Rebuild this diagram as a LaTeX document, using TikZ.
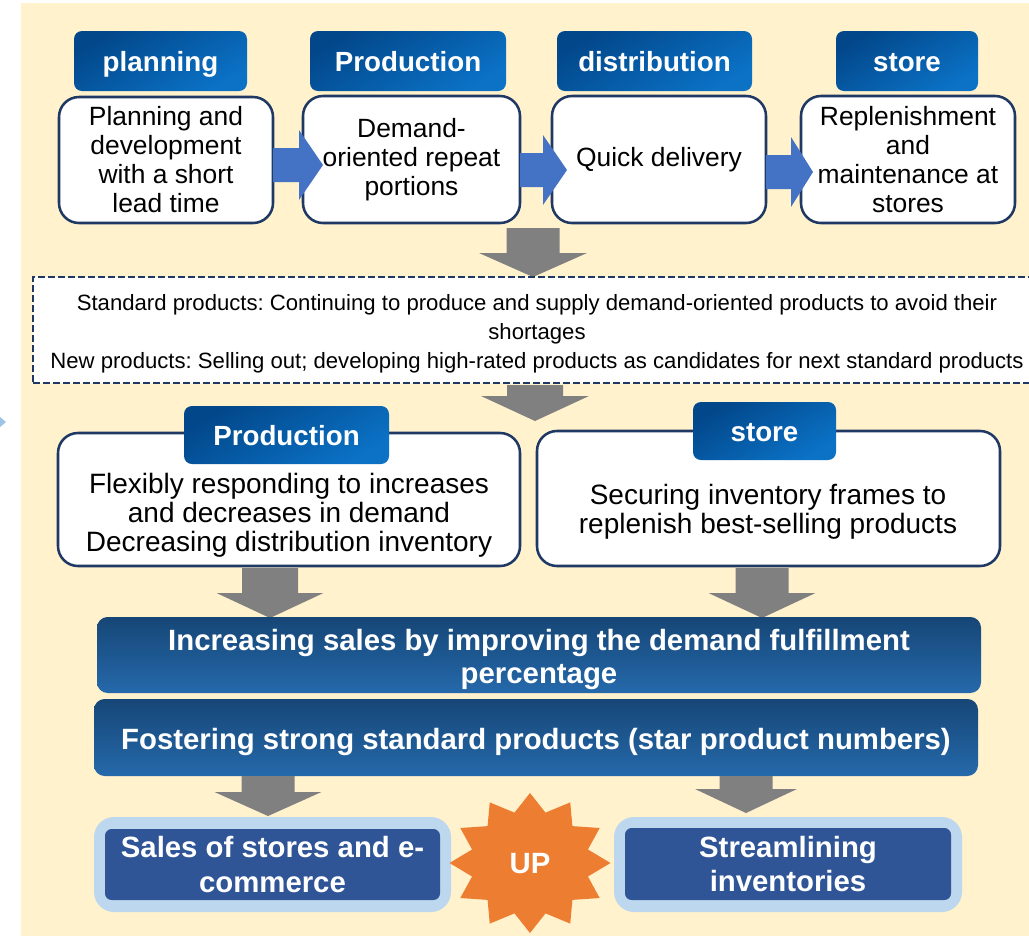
\documentclass[tikz,border=0pt]{standalone}
\usepackage{fontspec}
\setmainfont{Liberation Sans}
\frenchspacing
\definecolor{bg}{HTML}{FFF2CC}
\definecolor{navy}{HTML}{1F3864}
\definecolor{hdark}{HTML}{02478A}
\definecolor{hlight}{HTML}{0B72C6}
\definecolor{bdark}{HTML}{164676}
\definecolor{blight}{HTML}{2569AB}
\definecolor{arrblue}{HTML}{4472C4}
\definecolor{arrgray}{HTML}{808080}
\definecolor{outerblue}{HTML}{BDD7EE}
\definecolor{innerblue}{HTML}{2F5597}
\definecolor{starorange}{HTML}{ED7D31}
\definecolor{tri}{HTML}{9DC3E6}
\newcommand\grayarr[6]{\fill[arrgray] (#1-#5,#2) -- (#1+#5,#2) -- (#1+#5,#3) -- (#1+#6,#3) -- (#1,#4) -- (#1-#6,#3) -- (#1-#5,#3) -- cycle;}
\newcommand\blueblock[6]{\fill[arrblue] (#1,#2-#5) -- (#3,#2-#5) -- (#3,#2-#6) -- (#4,#2) -- (#3,#2+#6) -- (#3,#2+#5) -- (#1,#2+#5) -- cycle;}
\begin{document}
\begin{tikzpicture}[x=0.75pt,y=-0.75pt,
  span/.style n args={4}{minimum width={(#3-#1)*0.75pt}, minimum height={(#4-#2)*0.75pt}, at={({(#1+#3)/2},{(#2+#4)/2})}},
  whitebox/.style={draw=navy, line width=1.9pt, fill=white, rounded corners=15pt, inner sep=0pt, align=center, font=\fontsize{19.8}{21.75}\selectfont},
  midtext/.style={align=center, inner sep=0pt, font=\fontsize{21}{21.75}\selectfont},
  header/.style={rounded corners=6pt, inner sep=0pt, top color=hdark, bottom color=hlight, shading angle=30, text=white, text height=16pt, text depth=0pt, font=\bfseries\fontsize{20.8}{24}\selectfont},
  dashbox/.style={draw=navy, line width=2pt, dash pattern=on 5pt off 2.5pt, fill=white, inner sep=0pt},
  dashtext/.style={align=center, inner sep=0pt, font=\fontsize{16.6}{21.75}\selectfont},
  banner/.style={rounded corners=8pt, inner sep=0pt, top color=bdark, bottom color=blight},
  bannertext/.style={text=white, align=center, inner sep=0pt, font=\bfseries\fontsize{22}{24.75}\selectfont},
  outerbox/.style={fill=outerblue, rounded corners=15pt, inner sep=0pt},
  innerbox/.style={fill=innerblue, rounded corners=5pt, inner sep=0pt, text=white, align=center, font=\bfseries\fontsize{22}{26}\selectfont}
]
\useasboundingbox (0,0) rectangle (1029,936);
\fill[bg] (21,3) rectangle (1029,936);
\fill[tri] (0,417) -- (6,422) -- (0,427) -- cycle;

% top row
\node[header, span={74}{31}{247}{91}] (h1) {planning};
\node[header, span={310}{31}{506}{91}] (h2) {Production};
\node[header, span={557}{31}{752}{91}] (h3) {distribution};
\node[header, span={836}{31}{978}{91}] (h4) {store};

\node[whitebox, span={59}{97}{273}{223}] (b1) {Planning and\\development\\with a short\\lead time};
\node[whitebox, span={303}{96}{520}{223}] (b2) {Demand-\\oriented repeat\\portions};
\node[whitebox, span={552}{96}{766}{223}] (b3) {Quick delivery};
\node[whitebox, span={801}{96}{1015}{223}] (b4) {Replenishment\\and\\maintenance at\\stores};

\blueblock{273}{165}{299}{323}{17}{35}
\blueblock{520}{170}{543}{567}{17}{35}
\blueblock{766}{172}{791}{813}{17}{35}

\grayarr{533}{228}{253}{277}{26.5}{54}

% dashed box
\begin{scope}
\clip (0,0) rectangle (1029,936);
\node[dashbox, span={33}{277}{1041}{383}] (d) {};
\end{scope}
\node[dashtext] (dt) at (537,334) {Standard products: Continuing to produce and supply demand-oriented products to avoid their\\shortages\\New products: Selling out; developing high-rated products as candidates for next standard products};

\grayarr{535}{385}{396}{421}{28}{54}

% middle boxes
\node[whitebox, span={58}{433}{520}{566}] (m1) {};
\node[whitebox, span={537}{431}{1000}{566}] (m2) {};
\node[midtext] (t1) at (289,515) {Flexibly responding to increases\\and decreases in demand\\Decreasing distribution inventory};
\node[midtext] (t2) at (768,512) {Securing inventory frames to\\replenish best-selling products};
\node[header, span={184}{406}{389}{464}] (h5) {Production};
\node[header, span={693}{402}{836}{460}] (h6) {store};

\grayarr{270}{568}{593}{618}{28}{53.5}
\grayarr{762}{568}{593}{618}{26.5}{53.5}

% banners
\node[banner, span={97}{617}{981}{693}] (s1) {};
\node[bannertext] (s1t) at (539,659) {Increasing sales by improving the demand fulfillment\\percentage};
\node[banner, span={94}{699}{978}{776}] (s2) {};
\node[bannertext] (s2t) at (536,742) {Fostering strong standard products (star product numbers)};

\grayarr{268}{776}{792}{816}{26.5}{53.5}
\grayarr{746}{776}{789}{813}{26.5}{51}

% bottom
\node[outerbox, span={94}{817}{451}{912}] (o1) {};
\node[innerbox, span={105}{829}{440}{900}] (i1) {Sales of stores and e-\\commerce};
\node[outerbox, span={614}{817}{962}{912}] (o2) {};
\node[innerbox, span={625}{828}{951}{900}] (i2) {Streamlining\\inventories};

% star
\fill[starorange] (530,793) \foreach \i in {1,...,23}{ -- ({530+80.5*(1-0.255*mod(\i,2))*cos(90+15*\i)},{863-70*(1-0.255*mod(\i,2))*sin(90+15*\i)}) } -- cycle;
\node[text=white, font=\bfseries\fontsize{22}{26}\selectfont, inner sep=0pt] (up) at (530,864) {UP};
\end{tikzpicture}
\end{document}
